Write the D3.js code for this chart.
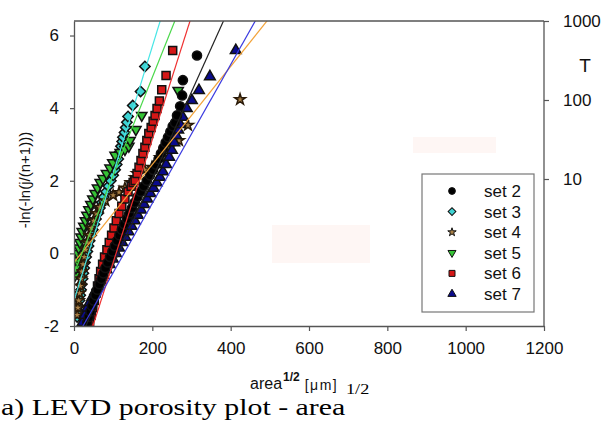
<!DOCTYPE html>
<html>
<head>
<meta charset="utf-8">
<script src="https://cdn.jsdelivr.net/npm/d3@7"></script>
<style>
  body { margin: 0; background: #fff; }
  svg { display: block; }
</style>
</head>
<body>
<svg id="chart" width="605" height="430"></svg>
<script>
// Values: [area^1/2 (um), reduced variate]
const set2 = [[34,-1.9],[38,-1.75],[42,-1.6],[46,-1.45],[50,-1.3],[55,-1.15],[60,-1.0],[65,-0.85],[70,-0.7],[75,-0.55],[80,-0.4],[86,-0.25],[92,-0.1],[98,0.05],[104,0.2],[110,0.35],[116,0.5],[122,0.65],[128,0.8],[135,0.95],[141,1.1],[148,1.25],[155,1.4],[162,1.55],[170,1.7],[178,1.85],[186,2.0],[194,2.15],[202,2.3],[209,2.45],[216,2.6],[222,2.75],[228,2.9],[234,3.05],[240,3.2],[246,3.35],[252,3.5],[258,3.6],[263,3.8],[271,4.05],[276,4.35],[278,4.77],[314,5.45]];
const set3 = [[8,-1.75],[10,-1.6],[12,-1.45],[14,-1.3],[16,-1.15],[18,-1.0],[20,-0.85],[22,-0.7],[24,-0.55],[26,-0.4],[28,-0.25],[31,-0.1],[34,0.05],[37,0.2],[40,0.35],[44,0.5],[48,0.65],[52,0.8],[56,0.95],[61,1.1],[66,1.25],[71,1.4],[76,1.55],[82,1.7],[88,1.85],[94,2.0],[100,2.15],[105,2.3],[109,2.45],[113,2.6],[117,2.8],[120,2.95],[123,3.08],[125,3.2],[129,3.33],[132,3.47],[135,3.61],[138,3.77],[150,4.07],[170,4.46],[181,5.15]];
const set4 = [[8,-1.7],[10,-1.5],[12,-1.3],[14,-1.1],[16,-0.9],[18,-0.7],[20,-0.5],[23,-0.3],[26,-0.1],[30,0.1],[34,0.3],[39,0.5],[44,0.7],[50,0.9],[57,1.1],[66,1.27],[80,1.45],[100,1.6],[115,1.68],[130,1.8],[145,1.95],[156,2.09],[161,2.2],[180,2.3],[199,2.37],[220,2.64],[240,2.9],[268,3.11],[291,3.53],[424,4.24]];
const set5 = [[3,-0.6],[5,-0.4],[7,-0.2],[9,0],[12,0.15],[15,0.3],[18,0.45],[21,0.6],[25,0.75],[29,0.9],[33,1.05],[38,1.2],[43,1.35],[48,1.5],[54,1.65],[60,1.8],[67,1.95],[74,2.06],[83,2.2],[92,2.35],[99,2.5],[105,2.7],[118,2.78],[130,2.86],[140,2.95],[143,3.11],[158,3.41],[173,3.8],[266,4.49]];
const set6 = [[40,-1.9],[44,-1.7],[48,-1.5],[52,-1.3],[56,-1.1],[60,-0.9],[64,-0.7],[68,-0.5],[73,-0.3],[78,-0.1],[84,0.1],[90,0.3],[96,0.5],[102,0.7],[108,0.9],[115,1.1],[122,1.3],[130,1.5],[138,1.7],[146,1.85],[151,1.95],[156,2.01],[161,2.2],[166,2.37],[171,2.56],[176,2.75],[181,2.92],[186,3.11],[191,3.3],[197,3.47],[202,3.64],[207,3.8],[212,3.99],[218,4.2],[224,4.51],[235,4.9],[252,5.59]];
const set7 = [[22,-1.9],[28,-1.7],[34,-1.5],[40,-1.35],[47,-1.2],[54,-1.05],[61,-0.9],[68,-0.75],[75,-0.6],[83,-0.45],[91,-0.3],[99,-0.15],[107,0.0],[115,0.15],[123,0.3],[131,0.45],[139,0.6],[147,0.75],[155,0.9],[163,1.05],[171,1.2],[179,1.35],[187,1.5],[195,1.65],[203,1.8],[211,1.95],[219,2.1],[227,2.25],[235,2.45],[243,2.65],[250,2.84],[256,3.05],[261,3.25],[266,3.4],[271,3.55],[278,3.75],[288,3.99],[301,4.21],[319,4.49],[347,4.87],[413,5.59]];

// fitted lines: intercept and slope per set
const fitIntercept = { set2: -2.72, set3: -1.3, set4: -0.25, set5: -0.55, set6: -3.64, set7: -2.44 };
const fitSlope = { set2: 0.0239, set3: 0.035, set4: 0.0135, set5: 0.027, set6: 0.0339, set7: 0.0191 };

const xTicks = [0, 200, 400, 600, 800, 1000, 1200];
const yTicks = [-2, 0, 2, 4, 6];
const tTicks = [10, 100, 1000];
const legendNames = ["set 2", "set 3", "set 4", "set 5", "set 6", "set 7"];

const svg = d3.select("#chart");
const mLeft = 74, mRight = 544, mTop = 21, mBottom = 326;

const x = d3.scaleLinear().domain([0, 1200]).range([mLeft, mRight]);
const y = d3.scaleLinear().domain([-2, 6.4]).range([mBottom, mTop]);
const t = d3.scaleLog().domain([10, 1000]).range([179, 21]);

const series = [
  { key: "set2", data: set2, shape: d3.symbolCircle, size: 66, fill: "#000", line: "#222", rot: 0 },
  { key: "set3", data: set3, shape: d3.symbolSquare, size: 54, fill: "#3fd3d3", line: "#47e6e6", rot: 45 },
  { key: "set4", data: set4, shape: d3.symbolStar, size: 36, fill: "#a87f45", line: "#f2a33a", rot: 0 },
  { key: "set5", data: set5, shape: d3.symbolTriangle, size: 46, fill: "#35c335", line: "#4ad84a", rot: 180 },
  { key: "set6", data: set6, shape: d3.symbolSquare, size: 64, fill: "#d41717", line: "#ef3030", rot: 0 },
  { key: "set7", data: set7, shape: d3.symbolTriangle, size: 50, fill: "#0b0b8c", line: "#3a3ae0", rot: 0 }
];
const drawOrder = ["set3", "set5", "set4", "set6", "set7", "set2"];

// faint artefact blocks in the scan
svg.append("rect").attr("x", 272).attr("y", 225).attr("width", 98).attr("height", 38).attr("fill", "#fef6f4");
svg.append("rect").attr("x", 413).attr("y", 137).attr("width", 83).attr("height", 16).attr("fill", "#fef6f4");

svg.append("defs").append("clipPath").attr("id", "plotclip")
  .append("rect").attr("x", mLeft).attr("y", mTop).attr("width", mRight - mLeft).attr("height", mBottom - mTop);

const plot = svg.append("g").attr("clip-path", "url(#plotclip)");

// markers
drawOrder.forEach(k => {
  const s = series.find(d => d.key === k);
  plot.append("g").selectAll("path")
    .data(s.data)
    .enter()
    .append("path")
    .attr("d", d3.symbol().type(s.shape).size(s.size))
    .attr("transform", d => `translate(${x(d[0])},${y(d[1])}) rotate(${s.rot})`)
    .attr("fill", s.fill)
    .attr("stroke", k === "set4" ? "#2a1a08" : "#111")
    .attr("stroke-width", 1.5);
});

// fitted lines across the x domain
series.forEach(s => {
  const a = fitIntercept[s.key], b = fitSlope[s.key];
  plot.append("line")
    .attr("x1", x(0)).attr("y1", y(a))
    .attr("x2", x(1200)).attr("y2", y(a + b * 1200))
    .attr("stroke", s.line)
    .attr("stroke-width", 1.2);
});

// frame
const axisColor = "#555";
svg.append("line").attr("x1", mLeft).attr("x2", mRight).attr("y1", mTop).attr("y2", mTop).attr("stroke", axisColor).attr("stroke-width", 1.3);
svg.append("line").attr("x1", mRight).attr("x2", mRight).attr("y1", mTop).attr("y2", mBottom).attr("stroke", axisColor).attr("stroke-width", 1.3);

const font = "Liberation Sans, Arial, sans-serif";
const plain = d => String(d);

const xAxis = svg.append("g").attr("transform", `translate(0,${mBottom})`)
  .call(d3.axisBottom(x).tickValues(xTicks).tickFormat(plain).tickSize(5).tickPadding(11).tickSizeOuter(0));
const yAxis = svg.append("g").attr("transform", `translate(${mLeft},0)`)
  .call(d3.axisLeft(y).tickValues(yTicks).tickFormat(plain).tickSize(4).tickPadding(11).tickSizeOuter(0));
const tAxis = svg.append("g").attr("transform", `translate(${mRight},0)`)
  .call(d3.axisRight(t).tickValues(tTicks).tickFormat(plain).tickSize(5).tickPadding(14));
tAxis.select(".domain").remove();

[xAxis, yAxis, tAxis].forEach(g => {
  g.selectAll(".domain").attr("stroke", axisColor).attr("stroke-width", 1.3);
  g.selectAll(".tick line").attr("stroke", axisColor).attr("stroke-width", 1.2);
  g.selectAll(".tick text").attr("font-family", font).attr("font-size", 17).attr("fill", "#111");
});

// axis titles
svg.append("text")
  .attr("transform", "translate(30,180) rotate(-90)")
  .attr("text-anchor", "middle")
  .attr("font-family", font).attr("font-size", 15).attr("fill", "#111")
  .text("-ln(-ln(j/(n+1)))");

svg.append("text").attr("x", 585).attr("y", 72).attr("text-anchor", "middle")
  .attr("font-family", font).attr("font-size", 19).attr("fill", "#111").text("T");

const xt = svg.append("text").attr("x", 250).attr("y", 389)
  .attr("font-family", font).attr("font-size", 16).attr("fill", "#111");
xt.append("tspan").text("area");
xt.append("tspan").attr("dy", -8).attr("dx", 1).attr("font-size", 12).attr("font-weight", "bold").text("1/2");
xt.append("tspan").attr("dy", 9).attr("dx", 5).attr("font-size", 14).attr("letter-spacing", 1.5).text("[\u03bcm]");

// caption (the scan is stretched sideways)
const serif = "Liberation Serif, Times New Roman, serif";
svg.append("text").attr("transform", "translate(1,415) scale(1.3,1)")
  .attr("font-family", serif).attr("font-size", 23).attr("fill", "#000")
  .text("a) LEVD porosity plot - area");
svg.append("text").attr("transform", "translate(346,394) scale(1.3,1)")
  .attr("font-family", serif).attr("font-size", 14).attr("fill", "#000")
  .text("1/2");

// legend
const legend = svg.append("g");
legend.append("rect").attr("x", 422).attr("y", 174).attr("width", 112).attr("height", 138)
  .attr("fill", "#fff").attr("stroke", "#777").attr("stroke-width", 1.2);
const ly = d3.scalePoint().domain(legendNames).range([191, 294]);
const legendSize = { set2: 36, set3: 30, set4: 22, set5: 28, set6: 36, set7: 30 };
series.forEach((s, i) => {
  const name = legendNames[i];
  legend.append("path")
    .attr("d", d3.symbol().type(s.shape).size(legendSize[s.key]))
    .attr("transform", `translate(452,${ly(name)}) rotate(${s.rot})`)
    .attr("fill", s.fill).attr("stroke", "#111").attr("stroke-width", 1);
  legend.append("text").attr("x", 484).attr("y", ly(name) + 6)
    .attr("font-family", font).attr("font-size", 17).attr("fill", "#111").text(name);
});
</script>
</body>
</html>
